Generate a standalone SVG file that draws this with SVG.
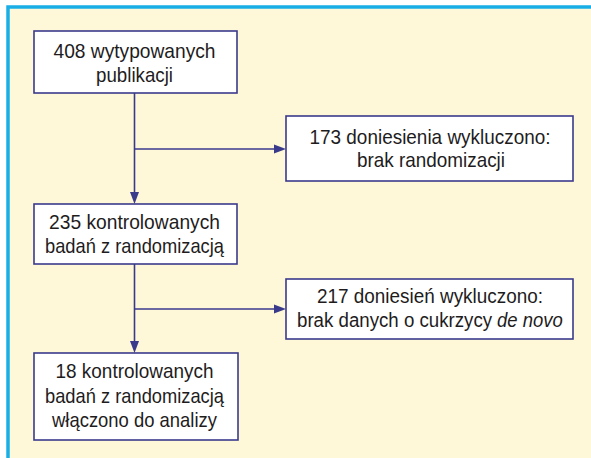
<svg xmlns="http://www.w3.org/2000/svg" width="591" height="458" viewBox="0 0 591 458">
<style>
.box{fill:#ffffff;stroke:#3a3a8c;stroke-width:1.6}
.t{font-family:"Liberation Sans",Arial,sans-serif;font-size:21px;fill:#1e1c1d;text-anchor:middle}
.s{text-anchor:start}
.c{fill:none;stroke:#3a3a8c;stroke-width:1.6}
.h{fill:#3a3a8c}
</style>
<rect x="0" y="0" width="591" height="458" fill="#ffffff"/>
<rect x="8" y="7" width="583" height="451" fill="#fef8d8"/>
<path d="M8 458 V7 H591" fill="none" stroke="#1aaee6" stroke-width="3.5"/>
<g id="connectors">
<path class="c" d="M134.5 93 V194"/>
<path class="h" d="M130 192 L139 192 L134.5 204 Z"/>
<path class="c" d="M134.5 149 H276"/>
<path class="h" d="M274 144.5 L286 149 L274 153.5 Z"/>
<path class="c" d="M134.5 264 V343"/>
<path class="h" d="M130 341 L139 341 L134.5 353 Z"/>
<path class="c" d="M134.5 309 H276"/>
<path class="h" d="M274 304.5 L286 309 L274 313.5 Z"/>
</g>
<g id="n1">
<rect class="box" x="34" y="31" width="203" height="62"/>
<text class="t" x="134.5" y="58" textLength="162" lengthAdjust="spacingAndGlyphs">408 wytypowanych</text>
<text class="t" x="134.5" y="82" textLength="77" lengthAdjust="spacingAndGlyphs">publikacji</text>
</g>
<g id="n2">
<rect class="box" x="286" y="116" width="287" height="65"/>
<text class="t" x="430" y="144" textLength="241" lengthAdjust="spacingAndGlyphs">173 doniesienia wykluczono:</text>
<text class="t" x="431" y="167" textLength="148" lengthAdjust="spacingAndGlyphs">brak randomizacji</text>
</g>
<g id="n3">
<rect class="box" x="34" y="204" width="203" height="60"/>
<text class="t" x="134.5" y="229" textLength="171" lengthAdjust="spacingAndGlyphs">235 kontrolowanych</text>
<text class="t" x="134.5" y="253" textLength="179" lengthAdjust="spacingAndGlyphs">badań z randomizacją</text>
</g>
<g id="n4">
<rect class="box" x="286" y="279" width="287" height="60"/>
<text class="t" x="430" y="303" textLength="226" lengthAdjust="spacingAndGlyphs">217 doniesień wykluczono:</text>
<text class="t s" transform="translate(297,327) scale(0.89,1)" x="0" y="0">brak danych o cukrzycy</text>
<text class="t s" transform="translate(497,327) scale(0.88,1)" x="0" y="0" font-style="italic">de novo</text>
</g>
<g id="n5">
<rect class="box" x="34" y="353" width="204" height="87"/>
<text class="t" x="134.5" y="378" textLength="158" lengthAdjust="spacingAndGlyphs">18 kontrolowanych</text>
<text class="t" x="134.5" y="403" textLength="179" lengthAdjust="spacingAndGlyphs">badań z randomizacją</text>
<text class="t" x="134.5" y="427" textLength="165" lengthAdjust="spacingAndGlyphs">włączono do analizy</text>
</g>
</svg>
